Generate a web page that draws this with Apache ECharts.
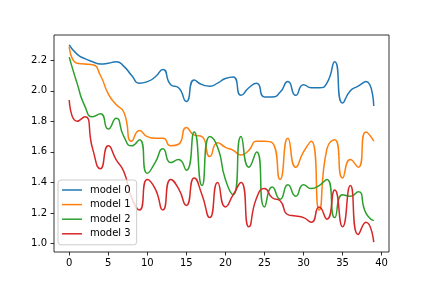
<!DOCTYPE html>
<html>
<head>
<meta charset="utf-8">
<script src="https://cdn.jsdelivr.net/npm/echarts@6/dist/echarts.min.js"></script>
<style>html,body{margin:0;padding:0;background:#fff}#c{width:432px;height:288px}</style>
</head>
<body>
<div id="c"></div>
<script>
var seriesNames = ['model 0', 'model 1', 'model 2', 'model 3'];
var xTicks = [0, 5, 10, 15, 20, 25, 30, 35, 40];
var yTicks = [1.0, 1.2, 1.4, 1.6, 1.8, 2.0, 2.2];
var model0 = [2.30, 2.24, 2.21, 2.19, 2.175, 2.18, 2.19, 2.16, 2.10, 2.05,
              2.06, 2.09, 2.14, 2.04, 2.02, 1.93, 2.07, 2.04, 2.03, 2.05,
              2.08, 2.09, 1.97, 2.02, 2.05, 1.96, 1.96, 1.99, 2.06, 1.97,
              2.04, 2.02, 2.02, 2.05, 2.19, 1.92, 2.00, 2.03, 2.06, 1.90];
var model1 = [2.29, 2.18, 2.175, 2.17, 2.10, 1.98, 1.91, 1.86, 1.67, 1.74,
              1.70, 1.69, 1.69, 1.64, 1.65, 1.76, 1.71, 1.70, 1.57, 1.66,
              1.63, 1.61, 1.58, 1.61, 1.67, 1.67, 1.66, 1.42, 1.69, 1.50,
              1.60, 1.67, 1.22, 1.62, 1.68, 1.43, 1.55, 1.50, 1.73, 1.67];
var model2 = [2.22, 2.05, 1.90, 1.83, 1.85, 1.75, 1.82, 1.70, 1.64, 1.68,
              1.46, 1.53, 1.62, 1.53, 1.55, 1.48, 1.73, 1.38, 1.70, 1.63,
              1.42, 1.32, 1.70, 1.50, 1.60, 1.24, 1.37, 1.29, 1.385, 1.31,
              1.385, 1.36, 1.38, 1.42, 1.17, 1.32, 1.31, 1.34, 1.20, 1.15];
var model3 = [1.94, 1.80, 1.83, 1.62, 1.49, 1.64, 1.55, 1.47, 1.30, 1.22,
              1.42, 1.36, 1.22, 1.42, 1.36, 1.25, 1.43, 1.32, 1.17, 1.40,
              1.24, 1.32, 1.40, 1.11, 1.30, 1.36, 1.30, 1.28, 1.19, 1.18,
              1.17, 1.14, 1.24, 1.16, 1.35, 1.11, 1.38, 1.06, 1.14, 1.01];
var colors = ['#1f77b4', '#ff7f0e', '#2ca02c', '#d62728'];
var allData = [model0, model1, model2, model3];

var font = 'DejaVu Sans';
var chart = echarts.init(document.getElementById('c'), null, {renderer: 'canvas'});
var series = allData.map(function (arr, k) {
  return {
    name: seriesNames[k],
    type: 'line',
    data: arr.map(function (v, i) { return [i, v]; }),
    smooth: 0.6,
    symbol: 'none',
    lineStyle: {color: colors[k], width: 1.5},
    itemStyle: {color: colors[k]},
    animation: false
  };
});
chart.setOption({
  animation: false,
  color: colors,
  grid: {left: 54, right: 43, top: 35, bottom: 36, show: true, borderColor: '#000', borderWidth: 0.8, backgroundColor: 'transparent'},
  xAxis: {
    type: 'value', min: -1.95, max: 40.95,
    splitLine: {show: false},
    axisLine: {show: false, onZero: false},
    axisTick: {show: true, length: 3.5, lineStyle: {color: '#000', width: 0.8}, customValues: xTicks},
    axisLabel: {color: '#000', fontFamily: font, fontSize: 10, margin: 6, customValues: xTicks,
      formatter: function (v) { return String(Math.round(v)); }}
  },
  yAxis: {
    type: 'value', min: 0.945, max: 2.365,
    splitLine: {show: false},
    axisLine: {show: false, onZero: false},
    axisTick: {show: true, length: 3.5, lineStyle: {color: '#000', width: 0.8}, customValues: yTicks},
    axisLabel: {color: '#000', fontFamily: font, fontSize: 10, margin: 7, customValues: yTicks,
      formatter: function (v) { return v.toFixed(1); }}
  },
  legend: {
    data: seriesNames,
    orient: 'vertical',
    left: 58, top: 180,
    icon: 'rect',
    itemWidth: 20, itemHeight: 1.5,
    itemGap: 2.6,
    padding: [4, 6, 5, 4],
    backgroundColor: 'rgba(255,255,255,0.8)',
    borderColor: '#cccccc', borderWidth: 1, borderRadius: 3,
    textStyle: {color: '#000', fontFamily: font, fontSize: 10, lineHeight: 12, padding: [0, 0, 0, 3]}
  },
  series: series
});
</script>
</body>
</html>
